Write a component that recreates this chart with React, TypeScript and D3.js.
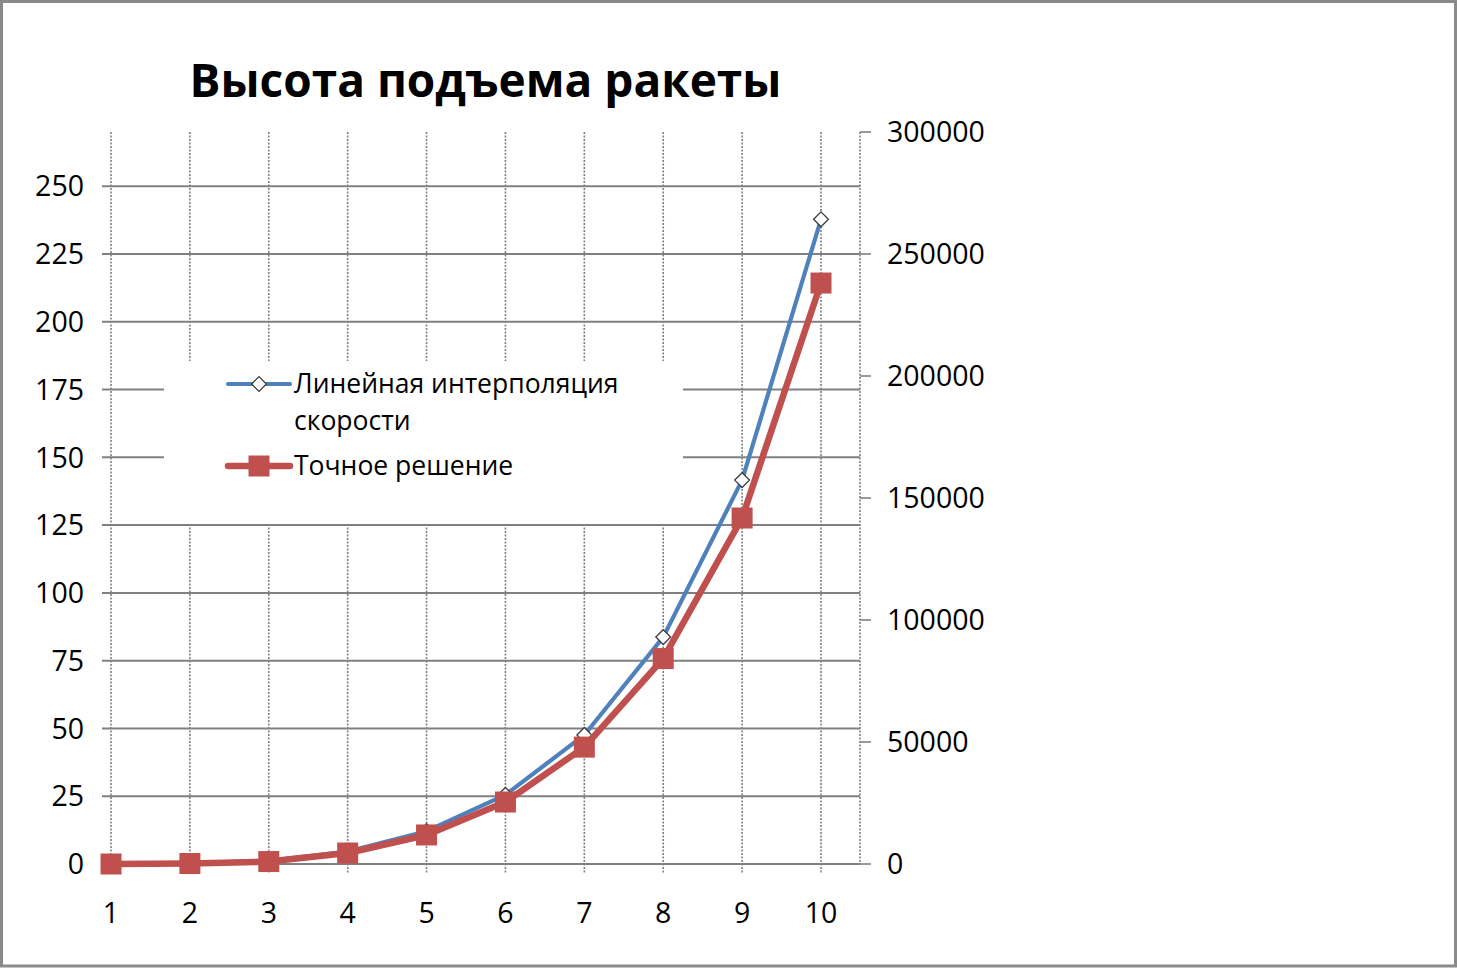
import { useRef, useEffect } from "react";
import * as d3 from "d3";

const WIDTH = 1457;
const HEIGHT = 968;

const TITLE = "Высота подъема ракеты";
const CATEGORIES = [1, 2, 3, 4, 5, 6, 7, 8, 9, 10];
// primary axis (left), km
const INTERP = [0, 0.2, 1.2, 4.6, 12.1, 25.5, 47.6, 83.7, 141.6, 237.8];
// secondary axis (right), m
const EXACT = [0, 200, 1000, 4500, 11900, 25400, 47900, 84200, 141800, 238100];
const LEFT_TICKS = [0, 25, 50, 75, 100, 125, 150, 175, 200, 225, 250];
const RIGHT_TICKS = [0, 50000, 100000, 150000, 200000, 250000, 300000];
const LEGEND = [
  { lines: ["Линейная интерполяция", "скорости"], color: "#4F81BD", marker: "diamond" },
  { lines: ["Точное решение"], color: "#C0504D", marker: "square" },
];

const FONT = "'Open Sans', 'DejaVu Sans', sans-serif";
const GRID = "#808080";

export default function App() {
  const svgRef = useRef<SVGSVGElement>(null);

  useEffect(() => {
    const svg = d3.select(svgRef.current);
    svg.selectAll("*").remove();

    const top = 132, bottom = 864, axisRight = 860;

    const x = d3.scalePoint<number>().domain(CATEGORIES).range([111, 821]);
    const yL = d3.scaleLinear().domain([0, 270]).range([bottom, top]);
    const yR = d3.scaleLinear().domain([0, 300000]).range([bottom, top]);

    // outer frame
    svg.append("rect")
      .attr("x", 1.5).attr("y", 1.5)
      .attr("width", WIDTH - 3).attr("height", HEIGHT - 3.5)
      .attr("fill", "#fff")
      .attr("stroke", "#8a8a8a")
      .attr("stroke-width", 3);

    // title
    svg.append("text")
      .attr("x", (111 + axisRight) / 2)
      .attr("y", 97)
      .attr("text-anchor", "middle")
      .attr("font-family", FONT)
      .attr("font-size", 46)
      .attr("font-weight", 700)
      .text(TITLE);

    // vertical grid (dotted)
    svg.append("g")
      .selectAll("line")
      .data(CATEGORIES)
      .enter()
      .append("line")
      .attr("x1", d => x(d)!).attr("x2", d => x(d)!)
      .attr("y1", top).attr("y2", bottom + 10)
      .attr("stroke", GRID)
      .attr("stroke-width", 1.6)
      .attr("stroke-dasharray", "2,1.5");

    // horizontal grid
    svg.append("g")
      .selectAll("line")
      .data(LEFT_TICKS)
      .enter()
      .append("line")
      .attr("x1", 102).attr("x2", axisRight)
      .attr("y1", d => yL(d)).attr("y2", d => yL(d))
      .attr("stroke", GRID)
      .attr("stroke-width", 2);

    // right axis
    svg.append("line")
      .attr("x1", axisRight).attr("x2", axisRight)
      .attr("y1", top).attr("y2", bottom)
      .attr("stroke", GRID)
      .attr("stroke-width", 1.6)
      .attr("stroke-dasharray", "2,1.5");
    svg.append("g")
      .selectAll("line")
      .data(RIGHT_TICKS)
      .enter()
      .append("line")
      .attr("x1", axisRight).attr("x2", axisRight + 11)
      .attr("y1", d => yR(d)).attr("y2", d => yR(d))
      .attr("stroke", GRID)
      .attr("stroke-width", 1.6);

    // tick labels
    svg.append("g")
      .selectAll("text")
      .data(LEFT_TICKS)
      .enter()
      .append("text")
      .attr("x", 84)
      .attr("y", d => yL(d))
      .attr("dy", "0.36em")
      .attr("text-anchor", "end")
      .attr("font-family", FONT)
      .attr("font-size", 28.5)
      .text(d => d);

    svg.append("g")
      .selectAll("text")
      .data(RIGHT_TICKS)
      .enter()
      .append("text")
      .attr("x", 887)
      .attr("y", d => yR(d))
      .attr("dy", "0.36em")
      .attr("font-family", FONT)
      .attr("font-size", 28.5)
      .text(d => d);

    svg.append("g")
      .selectAll("text")
      .data(CATEGORIES)
      .enter()
      .append("text")
      .attr("x", d => x(d)!)
      .attr("y", 923)
      .attr("text-anchor", "middle")
      .attr("font-family", FONT)
      .attr("font-size", 28.5)
      .text(d => d);

    // legend background (covers grid)
    svg.append("rect")
      .attr("x", 164).attr("y", 361)
      .attr("width", 519).attr("height", 162)
      .attr("fill", "#fff");

    const diamond = d3.symbol().type(d3.symbolDiamond2).size(140);

    // blue series (left axis)
    const lineL = d3.line<number>().x((_, i) => x(CATEGORIES[i])!).y(d => yL(d));
    svg.append("path")
      .attr("d", lineL(INTERP))
      .attr("fill", "none")
      .attr("stroke", "#4F81BD")
      .attr("stroke-width", 4.2)
      .attr("stroke-linejoin", "round");
    svg.append("g")
      .selectAll("path")
      .data(INTERP)
      .enter()
      .append("path")
      .attr("d", diamond)
      .attr("transform", (d, i) => `translate(${x(CATEGORIES[i])},${yL(d)})`)
      .attr("fill", "#fff")
      .attr("stroke", "#3c3c3c")
      .attr("stroke-width", 1.3);

    // red series (right axis)
    const lineR = d3.line<number>().x((_, i) => x(CATEGORIES[i])!).y(d => yR(d));
    svg.append("path")
      .attr("d", lineR(EXACT))
      .attr("fill", "none")
      .attr("stroke", "#C0504D")
      .attr("stroke-width", 6.5)
      .attr("stroke-linejoin", "round");
    svg.append("g")
      .selectAll("rect")
      .data(EXACT)
      .enter()
      .append("rect")
      .attr("x", (_, i) => x(CATEGORIES[i])! - 10.5)
      .attr("y", d => yR(d) - 10.5)
      .attr("width", 21).attr("height", 21)
      .attr("fill", "#C0504D");

    // legend
    const rows = [384, 466];
    LEGEND.forEach((item, k) => {
      const cy = rows[k];
      const g = svg.append("g");
      g.append("line")
        .attr("x1", 228).attr("x2", 290)
        .attr("y1", cy).attr("y2", cy)
        .attr("stroke", item.color)
        .attr("stroke-width", item.marker === "square" ? 6.5 : 4.2)
        .attr("stroke-linecap", "round");
      if (item.marker === "diamond") {
        g.append("path")
          .attr("d", diamond)
          .attr("transform", `translate(259,${cy})`)
          .attr("fill", "#fff")
          .attr("stroke", "#3c3c3c")
          .attr("stroke-width", 1.3);
      } else {
        g.append("rect")
          .attr("x", 248.5).attr("y", cy - 10.5)
          .attr("width", 21).attr("height", 21)
          .attr("fill", item.color);
      }
      item.lines.forEach((t, j) => {
        g.append("text")
          .attr("x", 294)
          .attr("y", cy + 9 + j * 37)
          .attr("font-family", FONT)
          .attr("font-size", 26.5)
          .text(t);
      });
    });
  }, []);

  return (
    <div style={{ position: "absolute", left: 0, top: 0 }}>
      <svg ref={svgRef} width={WIDTH} height={HEIGHT} style={{ display: "block" }} />
    </div>
  );
}
